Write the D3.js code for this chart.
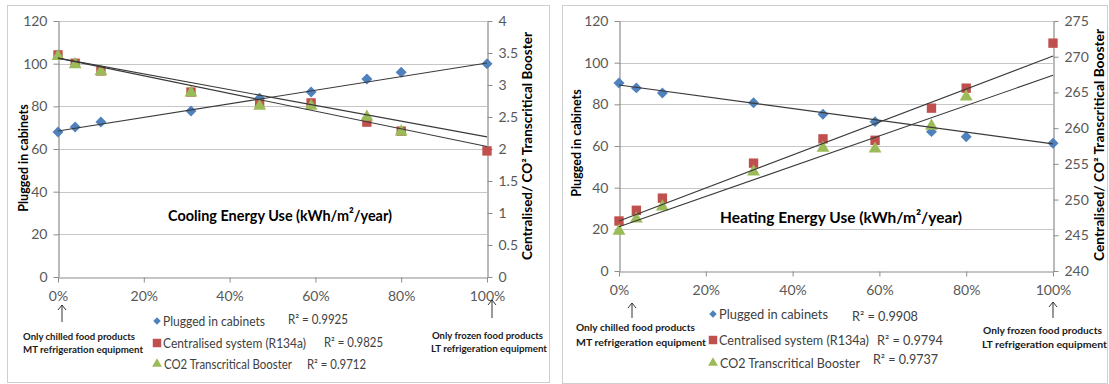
<!DOCTYPE html>
<html>
<head>
<meta charset="utf-8">
<script src="https://cdn.jsdelivr.net/npm/d3@7"></script>
<style>
  html, body { margin: 0; padding: 0; background: #fff; }
  svg { display: block; font-family: Lato, "Open Sans", sans-serif; }
</style>
</head>
<body>
<svg id="chart" width="1109" height="384"></svg>
<script>
// ---------- data ----------
const xPct = [0, 4, 10, 31, 47, 59, 72, 80, 100];
const xTicks = [0, 20, 40, 60, 80, 100];

// Cooling (left chart)
const coolPlugged = [68.0, 70.3, 72.7, 77.8, 83.8, 86.7, 92.8, 96.0, 100.0];
const coolCentral = [3.47, 3.34, 3.22, 2.89, 2.70, 2.72, 2.42, 2.28, 1.97];
const coolCO2     = [3.45, 3.32, 3.21, 2.88, 2.67, 2.67, 2.50, 2.27, null];
const coolTrendPlugged = [68.4, 100.3];
const coolTrendCentral = [3.42, 2.04];
const coolTrendCO2     = [3.42, 2.19];
const coolLeftTicks  = [0, 20, 40, 60, 80, 100, 120];
const coolRightTicks = [0, 0.5, 1, 1.5, 2, 2.5, 3, 3.5, 4];
const coolR2 = ["0.9925", "0.9825", "0.9712"];

// Heating (right chart)
const heatPlugged = [90.2, 87.9, 85.4, 80.8, 75.2, 71.7, 66.9, 64.4, 61.3];
const heatCentral = [247.0, 248.5, 250.2, 255.1, 258.5, 258.3, 262.8, 265.6, 271.9];
const heatCO2     = [245.6, 247.3, 249.0, 253.9, 257.2, 257.1, 260.3, 264.4, null];
const heatTrendPlugged = [89.3, 61.0];
const heatTrendCentral = [247.0, 270.1];
const heatTrendCO2     = [246.2, 267.4];
const heatLeftTicks  = [0, 20, 40, 60, 80, 100, 120];
const heatRightTicks = [240, 245, 250, 255, 260, 265, 270, 275];
const heatR2 = ["0.9908", "0.9794", "0.9737"];

const seriesNames = ["Plugged in cabinets", "Centralised system (R134a)", "CO2 Transcritical Booster"];
const leftTitle = "Plugged in cabinets";
const rightTitle = "Centralised/ CO\u00B2 Transcritical Booster";
const chartTitles = ["Cooling Energy Use (kWh/m\u00B2/year)", "Heating Energy Use (kWh/m\u00B2/year)"];
const noteLeft  = ["Only chilled food products", "MT refrigeration equipment"];
const noteRight = ["Only frozen food products", "LT refrigeration equipment"];

// ---------- style ----------
const COLORS = ["#4F81BD", "#C0504D", "#9BBB59"];
const GRID = "#c6c6c6", AXIS = "#8c8c8c", LABEL = "#595959", TREND = "#3a3a3a";

const svg = d3.select("#chart");

function markerTransform(i, px, py) {
  // diamond = square rotated by 45 degrees
  return `translate(${px},${py})` + (i === 0 ? " rotate(45)" : "");
}

function panel(cfg) {
  const g = svg.append("g");
  // frame
  g.append("rect").attr("x", cfg.frame[0] + 0.5).attr("y", cfg.frame[1] + 0.5)
    .attr("width", cfg.frame[2] - cfg.frame[0]).attr("height", cfg.frame[3] - cfg.frame[1])
    .attr("fill", "none").attr("stroke", "#cfcfcf");

  const x = d3.scaleLinear().domain([0, 100]).range([cfg.x0, cfg.x1]);
  const yL = d3.scaleLinear().domain([0, 120]).range([cfg.y0, cfg.y1]);
  const yR = d3.scaleLinear().domain(cfg.rightDomain).range([cfg.y0, cfg.y1]);

  // gridlines
  g.append("g").selectAll("line").data(cfg.leftTicks.filter(d => d > 0)).join("line")
    .attr("x1", cfg.x0).attr("x2", cfg.x1)
    .attr("y1", d => Math.round(yL(d)) + 0.5).attr("y2", d => Math.round(yL(d)) + 0.5)
    .attr("stroke", GRID).attr("stroke-width", 1.2);

  // axes
  const axL = g.append("g").attr("transform", `translate(${cfg.x0 + 0.5},0)`)
    .call(d3.axisLeft(yL).tickValues(cfg.leftTicks).tickSize(5).tickPadding(6).tickSizeOuter(0));
  const axR = g.append("g").attr("transform", `translate(${cfg.x1 + 0.5},0)`)
    .call(d3.axisRight(yR).tickValues(cfg.rightTicks).tickSize(5).tickPadding(6).tickSizeOuter(0)
      .tickFormat(d => String(d)));
  const axB = g.append("g").attr("transform", `translate(0,${cfg.y0 + 0.5})`)
    .call(d3.axisBottom(x).tickValues(xTicks).tickSize(5).tickPadding(10).tickSizeOuter(0)
      .tickFormat(d => d + "%"));
  [axL, axR, axB].forEach(a => {
    a.select(".domain").attr("stroke", AXIS).attr("stroke-width", 1.2);
    a.selectAll(".tick line").attr("stroke", AXIS);
    a.selectAll(".tick text").attr("fill", LABEL).attr("font-size", 14)
      .attr("font-family", "Lato, sans-serif");
  });
  axB.selectAll(".tick text").attr("y", cfg.xLabelY - cfg.y0).attr("dy", "0.35em");

  // markers
  const sym = [d3.symbolSquare, d3.symbolSquare, d3.symbolTriangle];
  const sizes = [60, 88, 72];
  const sets = [
    { vals: cfg.plugged, y: yL },
    { vals: cfg.central, y: yR },
    { vals: cfg.co2, y: yR }
  ];
  sets.forEach((s, i) => {
    const pts = xPct.map((p, k) => ({ p, v: s.vals[k] })).filter(d => d.v != null);
    g.append("g").selectAll("path").data(pts).join("path")
      .attr("d", d3.symbol().type(sym[i]).size(sizes[i]))
      .attr("transform", d => markerTransform(i, x(d.p), s.y(d.v)))
      .attr("fill", COLORS[i]);
  });

  // trendlines
  const trends = [
    { t: cfg.tPlugged, y: yL },
    { t: cfg.tCentral, y: yR },
    { t: cfg.tCO2, y: yR }
  ];
  trends.forEach(tr => {
    g.append("line")
      .attr("x1", x(0)).attr("y1", tr.y(tr.t[0]))
      .attr("x2", x(100)).attr("y2", tr.y(tr.t[1]))
      .attr("stroke", TREND).attr("stroke-width", 1.1);
  });

  // axis titles
  g.append("text").attr("transform", `translate(${cfg.leftTitle[0]},${cfg.leftTitle[1]}) rotate(-90)`)
    .attr("text-anchor", "middle").attr("dominant-baseline", "central")
    .attr("font-weight", "bold").attr("font-size", 12.5).attr("fill", "#000")
    .text(leftTitle);
  g.append("text").attr("transform", `translate(${cfg.rightTitle[0]},${cfg.rightTitle[1]}) rotate(-90)`)
    .attr("text-anchor", "middle").attr("dominant-baseline", "central")
    .attr("font-weight", "bold").attr("font-size", 12.5).attr("fill", "#000")
    .attr("textLength", cfg.rightTitle[2]).attr("lengthAdjust", "spacingAndGlyphs")
    .text(rightTitle);

  // chart title
  g.append("text").attr("x", cfg.title[0]).attr("y", cfg.title[1])
    .attr("dominant-baseline", "central")
    .attr("font-weight", "bold").attr("font-size", 16).attr("fill", "#000")
    .attr("textLength", cfg.title[2]).attr("lengthAdjust", "spacingAndGlyphs")
    .text(cfg.titleText);

  // legend
  const legSym = [d3.symbolSquare, d3.symbolSquare, d3.symbolTriangle];
  const legSize = [28, 72, 42];
  cfg.legend.forEach((L, i) => {
    g.append("path").attr("d", d3.symbol().type(legSym[i]).size(legSize[i]))
      .attr("transform", markerTransform(i, cfg.legX, L[0]))
      .attr("fill", COLORS[i]);
    g.append("text").attr("x", L[1]).attr("y", L[0]).attr("dominant-baseline", "central")
      .attr("font-size", 13).attr("fill", "#404040")
      .attr("textLength", L[2]).attr("lengthAdjust", "spacingAndGlyphs")
      .text(seriesNames[i]);
    g.append("text").attr("x", L[3]).attr("y", L[4]).attr("dominant-baseline", "central")
      .attr("font-size", 13).attr("fill", "#404040")
      .attr("textLength", L[5]).attr("lengthAdjust", "spacingAndGlyphs")
      .text("R\u00B2 = " + cfg.r2[i]);
  });

  // notes + arrows
  cfg.notes.forEach(n => {
    const ax = n.arrow[0], ay0 = n.arrow[1], ay1 = n.arrow[2];
    g.append("path")
      .attr("d", `M${ax},${ay1}V${ay0}M${ax - 4},${ay0 + 5}L${ax},${ay0}L${ax + 4},${ay0 + 5}`)
      .attr("fill", "none").attr("stroke", "#333").attr("stroke-width", 1);
    n.lines.forEach((ln, k) => {
      g.append("text").attr("x", ln[0]).attr("y", ln[1]).attr("dominant-baseline", "central")
        .attr("font-weight", "bold").attr("font-size", 10).attr("fill", "#1a1a1a")
        .attr("textLength", ln[2]).attr("lengthAdjust", "spacingAndGlyphs")
        .text(n.text[k]);
    });
  });
}

panel({
  frame: [7, 5, 549, 382],
  x0: 58, x1: 487, y0: 277, y1: 21,
  rightDomain: [0, 4],
  leftTicks: coolLeftTicks, rightTicks: coolRightTicks,
  xLabelY: 296,
  plugged: coolPlugged, central: coolCentral, co2: coolCO2,
  tPlugged: coolTrendPlugged, tCentral: coolTrendCentral, tCO2: coolTrendCO2,
  leftTitle: [23, 158], rightTitle: [527, 146, 228],
  title: [168, 214, 224], titleText: chartTitles[0],
  legX: 157,
  legend: [
    [321, 163, 102, 288, 319, 60],
    [343, 163, 143, 324, 342, 59],
    [364, 164, 128, 307, 364, 59]
  ],
  r2: coolR2,
  notes: [
    { arrow: [62, 305, 322], text: noteLeft, lines: [[23, 336, 112], [23, 349, 120]] },
    { arrow: [492, 300, 318], text: noteRight, lines: [[432, 335, 111], [431, 348, 116]] }
  ]
});

panel({
  frame: [562, 5, 1107, 383],
  x0: 619, x1: 1053, y0: 271, y1: 21,
  rightDomain: [240, 275],
  leftTicks: heatLeftTicks, rightTicks: heatRightTicks,
  xLabelY: 290,
  plugged: heatPlugged, central: heatCentral, co2: heatCO2,
  tPlugged: heatTrendPlugged, tCentral: heatTrendCentral, tCO2: heatTrendCO2,
  leftTitle: [576, 143], rightTitle: [1099, 145, 232],
  title: [720, 216, 242], titleText: chartTitles[1],
  legX: 713,
  legend: [
    [314, 719, 109, 852, 316, 66],
    [340, 719, 150, 877, 340, 66],
    [363, 720, 140, 873, 359, 65]
  ],
  r2: heatR2,
  notes: [
    { arrow: [632, 303, 318], text: noteLeft, lines: [[576, 327, 119], [576, 342, 130]] },
    { arrow: [1053, 302, 318], text: noteRight, lines: [[983, 330, 119], [982, 344, 125]] }
  ]
});
</script>
</body>
</html>
